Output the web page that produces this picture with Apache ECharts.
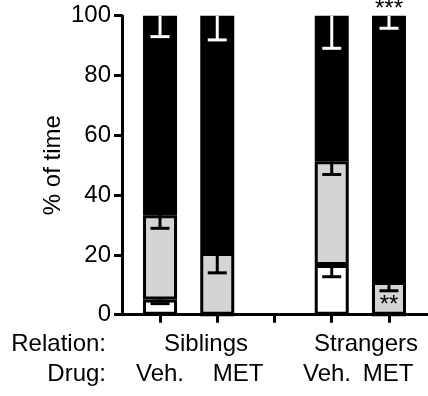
<!DOCTYPE html>
<html>
<head>
<meta charset="utf-8">
<script src="https://cdn.jsdelivr.net/npm/echarts@6/dist/echarts.min.js"></script>
<style>
  html, body { margin: 0; padding: 0; background: #fff; }
  #chart { width: 428px; height: 396px; }
</style>
</head>
<body>
<div id="chart"></div>
<script>
// categories (index 2 is the empty gap between the two groups)
var categories = ["Veh.", "MET", "", "Veh.", "MET"];
var relations = ["Siblings", "Strangers"];

// stacked segments, % of time
var whiteVals = [5.1, 0, "-", 16.6, 0];
var greyVals = [28.2, 20.6, "-", 34.7, 10.9];
var blackVals = [66.7, 79.4, "-", 48.7, 89.1];

// one-sided error (SEM) drawn down from each segment top
var whiteErr = [1.4, 0, 0, 3.9, 0];
var greyErr = [4.4, 6.6, 0, 4.4, 2.9];
var blackErr = [7.0, 8.1, 0, 10.9, 4.2];

// significance marks
var sigTop = ["", "", "", "", "***"];
var sigGrey = ["", "", "", "", "**"];

var FONT = "Liberation Sans, Arial, sans-serif";
var chart = echarts.init(document.getElementById("chart"));

function num(v) { return v === "-" ? 0 : v; }

// error bar data: [x, top, low]
function errData(tops, errs) {
  var out = [];
  for (var i = 0; i < tops.length; i++) {
    if (errs[i] > 0) out.push([i, tops[i], tops[i] - errs[i]]);
  }
  return out;
}
var whiteTop = whiteVals.map(num);
var greyTop = greyVals.map(function (v, i) { return num(v) + whiteTop[i]; });
var blackTop = blackVals.map(function (v, i) { return num(v) + greyTop[i]; });

function errSeries(data, color) {
  return {
    type: "custom",
    z: 10,
    silent: true,
    data: data,
    renderItem: function (params, api) {
      var top = api.coord([api.value(0), api.value(1)]);
      var low = api.coord([api.value(0), api.value(2)]);
      var hw = 9.5;
      var st = { stroke: color, lineWidth: 3 };
      return {
        type: "group",
        children: [
          { type: "line", shape: { x1: top[0], y1: top[1], x2: low[0], y2: low[1] }, style: st },
          { type: "line", shape: { x1: low[0] - hw, y1: low[1], x2: low[0] + hw, y2: low[1] }, style: st }
        ]
      };
    }
  };
}

function barData(vals, sig, labelCfg) {
  return vals.map(function (v, i) {
    if (!sig[i]) return v;
    return { value: v, label: Object.assign({ show: true, formatter: sig[i] }, labelCfg) };
  });
}

var barStyle = function (fill) {
  return { color: fill, borderColor: "#000", borderWidth: 3 };
};
var sigLabel = { color: "#000", fontSize: 24, fontFamily: FONT };

var option = {
  animation: false,
  grid: [
    { left: 131.4, right: 10.4, top: 15.7, bottom: 81.3 },
    { left: 122, right: 0, top: 15.7, bottom: 81.3 }
  ],
  xAxis: [
    {
      type: "category",
      data: categories,
      gridIndex: 0,
      axisLine: { show: false },
      axisTick: { show: true, alignWithLabel: true, length: 8, lineStyle: { color: "#000", width: 3 } },
      axisLabel: { show: false },
      splitLine: { show: false }
    },
    {
      type: "value",
      gridIndex: 1,
      min: 0,
      max: 1,
      axisLine: { show: true, lineStyle: { color: "#000", width: 3 } },
      axisTick: { show: false },
      axisLabel: { show: false },
      splitLine: { show: false }
    }
  ],
  yAxis: [
    {
      type: "value",
      gridIndex: 0,
      min: 0,
      max: 100,
      interval: 20,
      offset: 9.4,
      name: "% of time",
      nameLocation: "middle",
      nameGap: 57,
      nameMoveOverlap: false,
      nameTextStyle: { color: "#000", fontSize: 24, fontFamily: FONT },
      axisLine: { show: true, lineStyle: { color: "#000", width: 3 } },
      axisTick: { show: true, length: 8, lineStyle: { color: "#000", width: 3 } },
      axisLabel: { color: "#000", fontSize: 24, fontFamily: FONT, margin: 11 },
      splitLine: { show: false }
    },
    { type: "value", gridIndex: 1, show: false, min: 0, max: 100 }
  ],
  series: [
    {
      type: "bar", stack: "t", barWidth: 34,
      data: whiteVals, itemStyle: barStyle("#ffffff")
    },
    {
      type: "bar", stack: "t", barWidth: 34,
      data: barData(greyVals, sigGrey, Object.assign({ position: "insideBottom", distance: 0, offset: [0, 3] }, sigLabel)),
      itemStyle: barStyle("#d4d4d4")
    },
    {
      type: "bar", stack: "t", barWidth: 34,
      data: barData(blackVals, sigTop, Object.assign({ position: "top", distance: 0, offset: [0, 6] }, sigLabel)),
      itemStyle: barStyle("#000000")
    },
    errSeries(errData(whiteTop, whiteErr), "#000"),
    errSeries(errData(greyTop, greyErr), "#000"),
    errSeries(errData(blackTop, blackErr), "#fff")
  ],
  graphic: [
    { type: "text", right: 322, top: 332, style: { text: "Relation:", font: "24px " + FONT, fill: "#000" } },
    { type: "text", right: 322, top: 362, style: { text: "Drug:", font: "24px " + FONT, fill: "#000" } },
    { type: "text", x: 206, y: 344.7, style: { text: relations[0], font: "24px " + FONT, fill: "#000", align: "center", verticalAlign: "middle" } },
    { type: "text", x: 366, y: 344.7, style: { text: relations[1], font: "24px " + FONT, fill: "#000", align: "center", verticalAlign: "middle" } },
    { type: "text", x: 160, y: 374.7, style: { text: categories[0], font: "24px " + FONT, fill: "#000", align: "center", verticalAlign: "middle" } },
    { type: "text", x: 238, y: 374.7, style: { text: categories[1], font: "24px " + FONT, fill: "#000", align: "center", verticalAlign: "middle" } },
    { type: "text", x: 327, y: 374.7, style: { text: categories[3], font: "24px " + FONT, fill: "#000", align: "center", verticalAlign: "middle" } },
    { type: "text", x: 388, y: 374.7, style: { text: categories[4], font: "24px " + FONT, fill: "#000", align: "center", verticalAlign: "middle" } }
  ]
};
chart.setOption(option);
</script>
</body>
</html>
